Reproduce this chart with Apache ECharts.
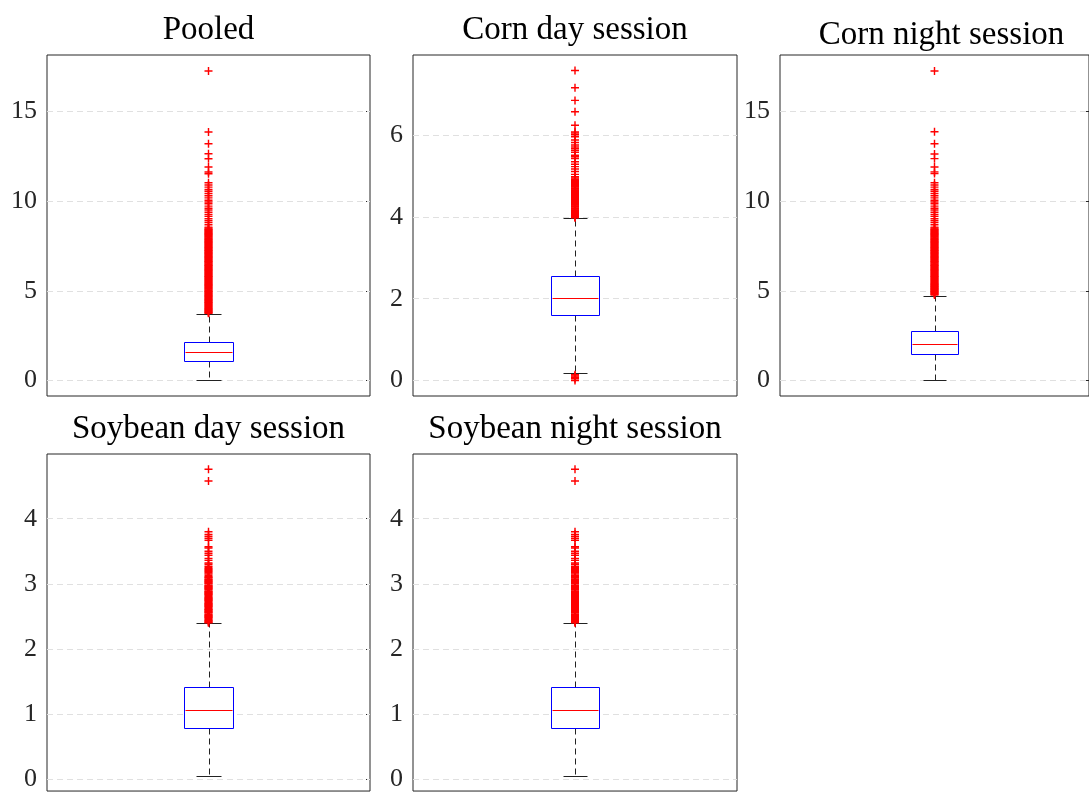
<!DOCTYPE html>
<html>
<head>
<meta charset="utf-8">
<script src="https://cdn.jsdelivr.net/npm/echarts@6/dist/echarts.min.js"></script>
<style>
  html, body { margin: 0; padding: 0; background: #fff; }
  #chart { width: 1089px; height: 792px; }
</style>
</head>
<body>
<div id="chart"></div>
<script>
// panel titles
const categories = ['Pooled', 'Corn day session', 'Corn night session', 'Soybean day session', 'Soybean night session']

// box stats: [lower whisker, Q1, median, Q3, upper whisker]
const pooledBox = [0, 1.08, 1.58, 2.12, 3.72]
const cornDayBox = [0.19, 1.61, 2.01, 2.55, 3.97]
const cornNightBox = [0, 1.50, 2.04, 2.78, 4.73]
const soyDayBox = [0.05, 0.78, 1.064, 1.42, 2.395]
const soyNightBox = [0.05, 0.78, 1.064, 1.42, 2.395]

// outliers (the solid red runs are packed tight)
const pooledOutliers = [3.74, 3.80, 3.87, 3.95, 4.02, 4.10, 4.17, 4.25, 4.33, 4.40, 4.48, 4.55, 4.63, 4.71, 4.78, 4.86,
  4.94, 5.01, 5.09, 5.16, 5.24, 5.32, 5.39, 5.47, 5.55, 5.62, 5.70, 5.78, 5.85, 5.93, 6.01, 6.08, 6.16, 6.23, 6.31,
  6.39, 6.46, 6.54, 6.62, 6.69, 6.77, 6.85, 6.92, 7.00, 7.08, 7.15, 7.23, 7.30, 7.38, 7.46, 7.53, 7.61, 7.69, 7.76,
  7.84, 7.92, 7.99, 8.07, 8.15, 8.22, 8.30, 8.38, 8.45, 8.55, 8.68, 8.80, 8.90, 9.02, 9.15, 9.25, 9.38, 9.50, 9.60,
  9.72, 9.85, 9.95, 10.05, 10.18, 10.30, 10.42, 10.55, 10.65, 10.78, 10.90, 11.02, 11.53, 11.62, 11.90, 12.36, 12.64,
  13.20, 13.85, 17.26,
  3.77, 3.84, 3.91, 3.98, 4.06, 4.13, 4.21, 4.29, 4.36, 4.44, 4.51, 4.59, 4.67, 4.74, 4.82, 4.90, 4.97, 5.05, 5.12,
  5.20, 5.28, 5.35, 5.43, 5.51, 5.58, 5.66, 5.74, 5.81, 5.89, 5.97, 6.04, 6.12, 6.19, 6.27, 6.35, 6.42, 6.50, 6.58,
  6.65, 6.73, 6.81, 6.88, 6.96, 7.04, 7.11, 7.19, 7.26, 7.34, 7.42, 7.49, 7.57, 7.65, 7.72, 7.80, 7.88, 7.95, 8.03,
  8.11, 8.18, 8.26, 8.34, 8.41, 8.50]
const cornDayOutliers = [0.0, 0.04, 0.08, 0.11, 0.14, 3.98, 4.01, 4.05, 4.08, 4.12, 4.15, 4.19, 4.22, 4.26, 4.29, 4.33,
  4.36, 4.40, 4.43, 4.47, 4.50, 4.54, 4.57, 4.61, 4.64, 4.68, 4.71, 4.75, 4.78, 4.82, 4.86, 4.92, 4.98, 5.04, 5.11,
  5.17, 5.23, 5.29, 5.35, 5.43, 5.47, 5.51, 5.58, 5.63, 5.67, 5.71, 5.76, 5.82, 5.88, 5.96, 6.01, 6.05, 6.08, 6.24,
  6.57, 6.85, 7.16, 7.58,
  3.99, 4.03, 4.06, 4.10, 4.13, 4.17, 4.20, 4.24, 4.27, 4.31, 4.34, 4.38, 4.41, 4.45, 4.48, 4.52, 4.55, 4.59, 4.62,
  4.66, 4.69, 4.73, 4.76, 4.80, 4.84, 4.89, 4.95]
const cornNightOutliers = [4.76, 4.83, 4.90, 4.97, 5.04, 5.11, 5.18, 5.25, 5.32, 5.39, 5.47, 5.55, 5.62, 5.70, 5.78,
  5.85, 5.93, 6.01, 6.08, 6.16, 6.23, 6.31, 6.39, 6.46, 6.54, 6.62, 6.69, 6.77, 6.85, 6.92, 7.00, 7.08, 7.15, 7.23,
  7.30, 7.38, 7.46, 7.53, 7.61, 7.69, 7.76, 7.84, 7.92, 7.99, 8.07, 8.15, 8.22, 8.30, 8.38, 8.45, 8.55, 8.68, 8.80,
  8.90, 9.02, 9.15, 9.25, 9.38, 9.50, 9.60, 9.72, 9.85, 9.95, 10.05, 10.18, 10.30, 10.42, 10.55, 10.65, 10.78, 10.90,
  11.02, 11.54, 11.63, 11.90, 12.37, 12.63, 13.20, 13.87, 17.26,
  4.80, 4.87, 4.94, 5.01, 5.08, 5.15, 5.22, 5.29, 5.36, 5.43, 5.51, 5.58, 5.66, 5.74, 5.81, 5.89, 5.97, 6.04, 6.12,
  6.19, 6.27, 6.35, 6.42, 6.50, 6.58, 6.65, 6.73, 6.81, 6.88, 6.96, 7.04, 7.11, 7.19, 7.26, 7.34, 7.42, 7.49, 7.57,
  7.65, 7.72, 7.80, 7.88, 7.95, 8.03, 8.11, 8.18, 8.26, 8.34, 8.41, 8.50]
const soyDayOutliers = [2.40, 2.42, 2.44, 2.47, 2.49, 2.51, 2.53, 2.56, 2.58, 2.60, 2.62, 2.65, 2.67, 2.69, 2.71, 2.74,
  2.76, 2.78, 2.80, 2.83, 2.85, 2.87, 2.89, 2.92, 2.94, 2.96, 2.98, 3.01, 3.03, 3.05, 3.07, 3.10, 3.13, 3.17, 3.20,
  3.22, 3.25, 3.27, 3.30, 3.32, 3.36, 3.39, 3.44, 3.47, 3.50, 3.55, 3.57, 3.67, 3.70, 3.73, 3.76, 3.80, 4.58, 4.76,
  2.41, 2.43, 2.45, 2.48, 2.50, 2.52, 2.55, 2.57, 2.59, 2.61, 2.64, 2.66, 2.68, 2.70, 2.73, 2.75, 2.77, 2.79, 2.82,
  2.84, 2.86, 2.88, 2.91, 2.93, 2.95, 2.97, 3.00, 3.02, 3.04, 3.06, 3.09, 3.11, 3.15, 3.19, 3.23]
const soyNightOutliers = [2.40, 2.42, 2.44, 2.47, 2.49, 2.51, 2.53, 2.56, 2.58, 2.60, 2.62, 2.65, 2.67, 2.69, 2.71, 2.74,
  2.76, 2.78, 2.80, 2.83, 2.85, 2.87, 2.89, 2.92, 2.94, 2.96, 2.98, 3.01, 3.03, 3.05, 3.07, 3.10, 3.13, 3.17, 3.20,
  3.22, 3.25, 3.27, 3.30, 3.32, 3.36, 3.39, 3.44, 3.47, 3.50, 3.55, 3.57, 3.67, 3.70, 3.73, 3.76, 3.80, 4.58, 4.76,
  2.41, 2.43, 2.45, 2.48, 2.50, 2.52, 2.55, 2.57, 2.59, 2.61, 2.64, 2.66, 2.68, 2.70, 2.73, 2.75, 2.77, 2.79, 2.82,
  2.84, 2.86, 2.88, 2.91, 2.93, 2.95, 2.97, 3.00, 3.02, 3.04, 3.06, 3.09, 3.11, 3.15, 3.19, 3.23]

// tick labels
const pooledTicks = [0, 5, 10, 15]
const cornDayTicks = [0, 2, 4, 6]
const cornNightTicks = [0, 5, 10, 15]
const soyDayTicks = [0, 1, 2, 3, 4]
const soyNightTicks = [0, 1, 2, 3, 4]

// layout of each subplot
const panels = [
  { box: pooledBox, out: pooledOutliers, ticks: pooledTicks, ymin: -0.87, ymax: 18.15, left: 47, top: 55, width: 323, titleTop: 14 },
  { box: cornDayBox, out: cornDayOutliers, ticks: cornDayTicks, ymin: -0.38, ymax: 7.96, left: 413, top: 55, width: 324, titleTop: 14 },
  { box: cornNightBox, out: cornNightOutliers, ticks: cornNightTicks, ymin: -0.87, ymax: 18.15, left: 780, top: 55, width: 323, titleTop: 19 },
  { box: soyDayBox, out: soyDayOutliers, ticks: soyDayTicks, ymin: -0.185, ymax: 4.995, left: 47, top: 454, width: 323, titleTop: 413 },
  { box: soyNightBox, out: soyNightOutliers, ticks: soyNightTicks, ymin: -0.185, ymax: 4.995, left: 413, top: 454, width: 324, titleTop: 413 }
]

const PLOT_H = 341
const axisColor = '#262626'
const plusPath = 'path://M0,4.1H10V5.9H0Z M4.1,0H5.9V10H4.1Z'

function renderBox (params, api) {
  const x = api.value(0)
  const hw = 0.075 // half box width
  const cw = 0.0375 // half cap width
  const sn = v => Math.round(v) + 0.5
  const X = v => sn(api.coord([v, 0])[0])
  const Y = v => sn(api.coord([x, v])[1])
  const xc = X(x)
  const yMin = Y(api.value(1))
  const yQ1 = Y(api.value(2))
  const yMed = Y(api.value(3))
  const yQ3 = Y(api.value(4))
  const yMax = Y(api.value(5))
  const dash = { stroke: '#222', lineWidth: 1, lineDash: [6, 4] }
  const solid = { stroke: '#222', lineWidth: 1 }
  return {
    type: 'group',
    children: [
      { type: 'line', shape: { x1: xc, y1: yQ3, x2: xc, y2: yMax }, style: dash },
      { type: 'line', shape: { x1: xc, y1: yQ1, x2: xc, y2: yMin }, style: dash },
      { type: 'line', shape: { x1: X(x - cw), y1: yMax, x2: X(x + cw), y2: yMax }, style: solid },
      { type: 'line', shape: { x1: X(x - cw), y1: yMin, x2: X(x + cw), y2: yMin }, style: solid },
      { type: 'rect', shape: { x: X(x - hw), y: yQ3, width: X(x + hw) - X(x - hw), height: yQ1 - yQ3 }, style: { fill: '#fff', stroke: '#0000ff', lineWidth: 1 } },
      { type: 'line', shape: { x1: X(x - hw) + 1, y1: yMed, x2: X(x + hw) - 1, y2: yMed }, style: { stroke: '#ff0000', lineWidth: 1 } }
    ]
  }
}

const option = {
  animation: false,
  backgroundColor: '#fff',
  title: [],
  grid: [],
  xAxis: [],
  yAxis: [],
  series: []
}

panels.forEach((p, i) => {
  option.title.push({
    text: categories[i],
    left: p.left + p.width / 2,
    top: p.titleTop,
    textAlign: 'center',
    padding: 0,
    textStyle: { fontFamily: 'Liberation Serif', fontSize: 33, fontWeight: 'normal', color: '#000' }
  })
  option.grid.push({
    left: p.left, top: p.top, width: p.width, height: PLOT_H,
    show: true, borderColor: axisColor, borderWidth: 1, backgroundColor: 'transparent'
  })
  option.xAxis.push({
    type: 'value', gridIndex: i, min: 0.5, max: 1.5,
    axisLine: { show: false }, axisTick: { show: false }, axisLabel: { show: false }, splitLine: { show: false }
  })
  const yBase = {
    type: 'value', gridIndex: i, min: p.ymin, max: p.ymax,
    axisLine: { show: false },
    splitLine: { show: false },
    axisTick: { show: true, inside: true, length: 4, customValues: p.ticks, lineStyle: { color: axisColor } }
  }
  option.yAxis.push(Object.assign({}, yBase, {
    position: 'left',
    axisLabel: {
      show: true, customValues: p.ticks, margin: 10, color: axisColor,
      fontFamily: 'Liberation Serif', fontSize: 26
    }
  }))
  option.yAxis.push(Object.assign({}, yBase, {
    position: 'right',
    axisLabel: { show: false }
  }))
  option.series.push({
    type: 'custom',
    xAxisIndex: i,
    yAxisIndex: i * 2,
    renderItem: renderBox,
    encode: { x: 0, y: [1, 2, 3, 4, 5] },
    data: [[1].concat(p.box)],
    z: 3
  })
  option.series.push({
    type: 'scatter',
    xAxisIndex: i,
    yAxisIndex: i * 2,
    symbol: plusPath,
    symbolSize: 8,
    itemStyle: { color: '#ff0000', opacity: 1 },
    data: p.out.map(v => [1, v]),
    z: 4,
    markLine: {
      silent: true,
      symbol: 'none',
      z: 1,
      label: { show: false },
      lineStyle: { color: '#e0e0e0', type: [6, 4], width: 1 },
      data: p.ticks.map(v => ({ yAxis: v }))
    }
  })
})

const chart = echarts.init(document.getElementById('chart'))
chart.setOption(option)
</script>
</body>
</html>
